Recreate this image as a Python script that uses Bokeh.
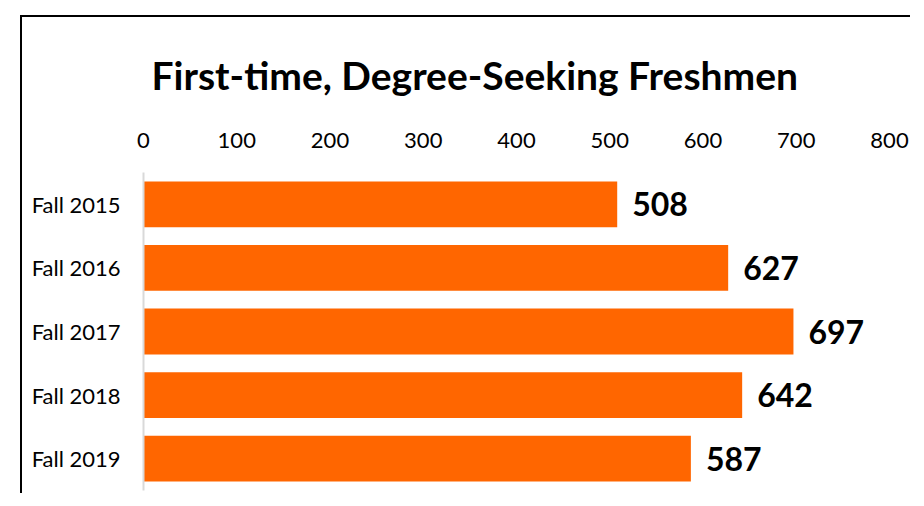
from bokeh.plotting import figure
from bokeh.models import Range1d, FactorRange, ColumnDataSource
from bokeh.core.properties import value
from bokeh.embed import file_html
from bokeh.resources import INLINE

categories = ["Fall 2015", "Fall 2016", "Fall 2017", "Fall 2018", "Fall 2019"]
counts = [508, 627, 697, 642, 587]
tick_values = [0, 100, 200, 300, 400, 500, 600, 700, 800]
title_text = "First-time, Degree-Seeking Freshmen"

src = ColumnDataSource(dict(cat=categories, n=counts, lbl=[str(v) for v in counts]))

p = figure(width=890, height=478, output_backend="svg", toolbar_location=None,
           y_range=FactorRange(*reversed(categories), range_padding=0),
           x_range=Range1d(0, 800), x_axis_location="above",
           min_border_left=121, min_border_top=155, min_border_right=23, min_border_bottom=5,
           margin=(15, 0, 0, 20),
           styles={"border-top": "2px solid black", "border-left": "2px solid black"})
p.outline_line_color = None
p.grid.visible = False

p.hbar(y="cat", right="n", left=0, height=0.72, source=src, fill_color="#ff6600", line_color=None)
p.text(x="n", y="cat", text="lbl", source=src, x_offset=15, text_baseline="middle",
       text_font=value("Lato"), text_font_style="bold", text_font_size="32px", text_color="black")

xa = p.xaxis[0]
xa.ticker = tick_values
xa.axis_line_color = None
xa.major_tick_line_color = None
xa.minor_tick_line_color = None
xa.major_label_text_font = "Lato"
xa.major_label_text_font_size = "22px"
xa.major_label_text_color = "black"
xa.major_label_standoff = 19

ya = p.yaxis[0]
ya.axis_line_color = "#d9d9d9"
ya.axis_line_width = 2
ya.major_tick_line_color = None
ya.minor_tick_line_color = None
ya.major_label_text_font = "Lato"
ya.major_label_text_font_size = "22px"
ya.major_label_text_color = "black"
ya.major_label_standoff = 17

p.title.text = title_text
p.title.align = "left"
p.title.offset = 8
p.title.text_font = "Lato"
p.title.text_font_style = "bold"
p.title.text_font_size = "39px"
p.title.text_color = "black"
p.title.text_line_height = 0.8
p.title.standoff = 64

open("out.html", "w").write(file_html(p, INLINE))
